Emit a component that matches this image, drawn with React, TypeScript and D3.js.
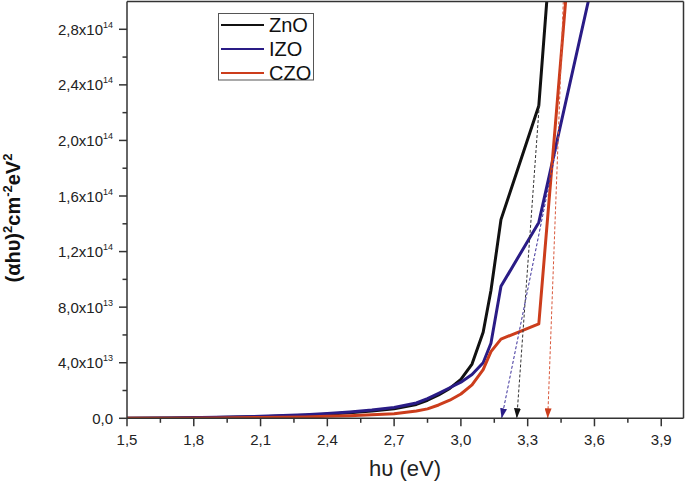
import React from 'react';
import * as d3 from 'd3';

// ---- data ----
const seriesNames = ['ZnO', 'IZO', 'CZO'];
const seriesColors = ['#111111', '#2a1c86', '#cc3d1c'];
const dashColors = ['#333333', '#3a2e9a', '#d9573a'];

const energy = [1.5, 1.7, 1.9, 2.1, 2.3, 2.4, 2.5, 2.6, 2.7, 2.8, 2.85, 2.9, 2.95, 3.0, 3.05, 3.1, 3.135, 3.18, 3.35];
const znoY = [0, 2e11, 5e11, 1.1e12, 2.2e12, 3.0e12, 4.0e12, 5.2e12, 6.8e12, 1.0e13, 1.3e13, 1.68e13, 2.15e13, 2.8e13, 3.9e13, 6.2e13, 9.2e13, 1.43e14, 2.25e14];
const izoY = [0, 3e11, 7e11, 1.4e12, 2.6e12, 3.5e12, 4.6e12, 6.0e12, 7.8e12, 1.1e13, 1.42e13, 1.8e13, 2.2e13, 2.6e13, 3.15e13, 4.0e13, 5.4e13, 9.5e13, 1.41e14];
const czoY = [0, 1e11, 3e11, 6e11, 1.0e12, 1.4e12, 1.9e12, 2.5e12, 3.3e12, 5.2e12, 6.8e12, 9.6e12, 1.3e13, 1.75e13, 2.4e13, 3.5e13, 4.8e13, 5.7e13, 6.8e13];
// last point of each series (above the top of the frame, clipped)
const lastX = [3.40, 3.60, 3.50];
const lastY = [3.3e14, 3.2e14, 3.57e14];

// Tauc extrapolation arrows: start (x1,y1) -> tip (x2,y2)
const arrowX1 = [3.352, 3.436, 3.46];
const arrowY1 = [2.254e14, 2.0e14, 3.0e14];
const arrowX2 = [3.251, 3.183, 3.39];
const arrowY2 = [0, 0, 0];

const xMajorTicks = [1.5, 1.8, 2.1, 2.4, 2.7, 3.0, 3.3, 3.6, 3.9];
const xTickLabels = ['1,5', '1,8', '2,1', '2,4', '2,7', '3,0', '3,3', '3,6', '3,9'];
const xMinorTicks = [1.65, 1.95, 2.25, 2.55, 2.85, 3.15, 3.45, 3.75];
const yMajorTicks = [0, 4e13, 8e13, 1.2e14, 1.6e14, 2.0e14, 2.4e14, 2.8e14];
const yMinorTicks = [2e13, 6e13, 1.0e14, 1.4e14, 1.8e14, 2.2e14, 2.6e14];

const W = 685;
const H = 485;
const left = 127;
const right = 683.5;
const top = 1.5;
const bottom = 418.3;
const FONT = '"Liberation Sans", Arial, sans-serif';

function fmtY(v: number) {
  if (v === 0) return { m: '0,0', e: '' };
  const e = Math.floor(Math.log10(v));
  const m = (v / Math.pow(10, e)).toFixed(1).replace('.', ',');
  return { m: m + 'x10', e: String(e) };
}

export default function App() {
  const x = d3.scaleLinear().domain([1.5, 4.0]).range([left, right]);
  const y = d3.scaleLinear().domain([0, 3e14]).range([bottom, top]);
  const line = d3
    .line<[number, number]>()
    .x((d) => x(d[0]))
    .y((d) => y(d[1]));

  const allY = [znoY, izoY, czoY];
  const series = allY.map((ys, i) => {
    const pts: [number, number][] = energy.map((e, j) => [e, ys[j]]);
    pts.push([lastX[i], lastY[i]]);
    return pts;
  });

  return (
    <svg width={W} height={H} style={{ position: 'absolute', left: 0, top: 0, background: '#fff' }} fontFamily={FONT}>
      <defs>
        <clipPath id="plotclip">
          <rect x={left} y={top} width={right - left} height={bottom - top} />
        </clipPath>
        {dashColors.map((c, i) => (
          <marker
            key={i}
            id={'arr' + i}
            markerUnits="userSpaceOnUse"
            markerWidth={11}
            markerHeight={7}
            refX={10}
            refY={3.5}
            orient="auto"
          >
            <path d="M0,0 L10,3.5 L0,7 Z" fill={seriesColors[i]} />
          </marker>
        ))}
      </defs>

      {/* curves */}
      <g clipPath="url(#plotclip)">
        {series.map((pts, i) => (
          <path key={i} d={line(pts) || ''} fill="none" stroke={seriesColors[i]} strokeWidth={3} strokeLinejoin="round" />
        ))}
      </g>

      {/* arrows */}
      {arrowX1.map((_, i) => (
        <line
          key={i}
          x1={x(arrowX1[i])}
          y1={y(arrowY1[i])}
          x2={x(arrowX2[i])}
          y2={y(arrowY2[i])}
          stroke={dashColors[i]}
          strokeWidth={1}
          strokeDasharray="3,2"
          markerEnd={`url(#arr${i})`}
        />
      ))}

      {/* frame */}
      <line x1={left} x2={right} y1={top} y2={top} stroke="#333" strokeWidth={1.5} />
      <line x1={right} x2={right} y1={top} y2={bottom} stroke="#333" strokeWidth={1.5} />
      <line x1={left} x2={left} y1={top} y2={bottom} stroke="#333" strokeWidth={1.5} />
      <line x1={left} x2={right} y1={bottom} y2={bottom} stroke="#333" strokeWidth={1.5} />

      {/* x ticks */}
      {xMajorTicks.map((t, i) => (
        <g key={'xm' + i}>
          <line x1={x(t)} x2={x(t)} y1={bottom} y2={bottom + 8} stroke="#333" strokeWidth={1.5} />
          <text x={x(t)} y={444.5} fontSize={15} textAnchor="middle" fill="#222">
            {xTickLabels[i]}
          </text>
        </g>
      ))}
      {xMinorTicks.map((t, i) => (
        <line key={'xn' + i} x1={x(t)} x2={x(t)} y1={bottom} y2={bottom + 4.5} stroke="#333" strokeWidth={1.5} />
      ))}

      {/* y ticks */}
      {yMajorTicks.map((t, i) => {
        const f = fmtY(t);
        return (
          <g key={'ym' + i}>
            <line x1={left - 8} x2={left} y1={y(t)} y2={y(t)} stroke="#333" strokeWidth={1.5} />
            <text x={113} y={y(t) + 5.5} fontSize={15} textAnchor="end" fill="#222">
              <tspan>{f.m}</tspan>
              {f.e && (
                <tspan fontSize={9} dy={-7}>
                  {f.e}
                </tspan>
              )}
            </text>
          </g>
        );
      })}
      {yMinorTicks.map((t, i) => (
        <line key={'yn' + i} x1={left - 4.5} x2={left} y1={y(t)} y2={y(t)} stroke="#333" strokeWidth={1.5} />
      ))}

      {/* axis titles */}
      <text x={405} y={476} fontSize={22} textAnchor="middle" fill="#222">
        hυ (eV)
      </text>
      <text transform="translate(20,218) rotate(-90)" fontSize={20} fontWeight="bold" textAnchor="middle" fill="#111">
        <tspan>(αhυ)</tspan>
        <tspan fontSize={13} dy={-8}>2</tspan>
        <tspan dy={8}>cm</tspan>
        <tspan fontSize={13} dy={-8}>-2</tspan>
        <tspan dy={8}>eV</tspan>
        <tspan fontSize={13} dy={-8}>2</tspan>
      </text>

      {/* legend */}
      <rect x={218.5} y={13.5} width={95} height={66.5} fill="#fff" stroke="#555" strokeWidth={1} />
      {seriesNames.map((n, i) => (
        <g key={'lg' + i}>
          <line x1={221} x2={264} y1={25 + i * 24} y2={25 + i * 24} stroke={seriesColors[i]} strokeWidth={2} />
          <text x={269} y={25 + i * 24 + 7} fontSize={20} fill="#111">
            {n}
          </text>
        </g>
      ))}
    </svg>
  );
}
